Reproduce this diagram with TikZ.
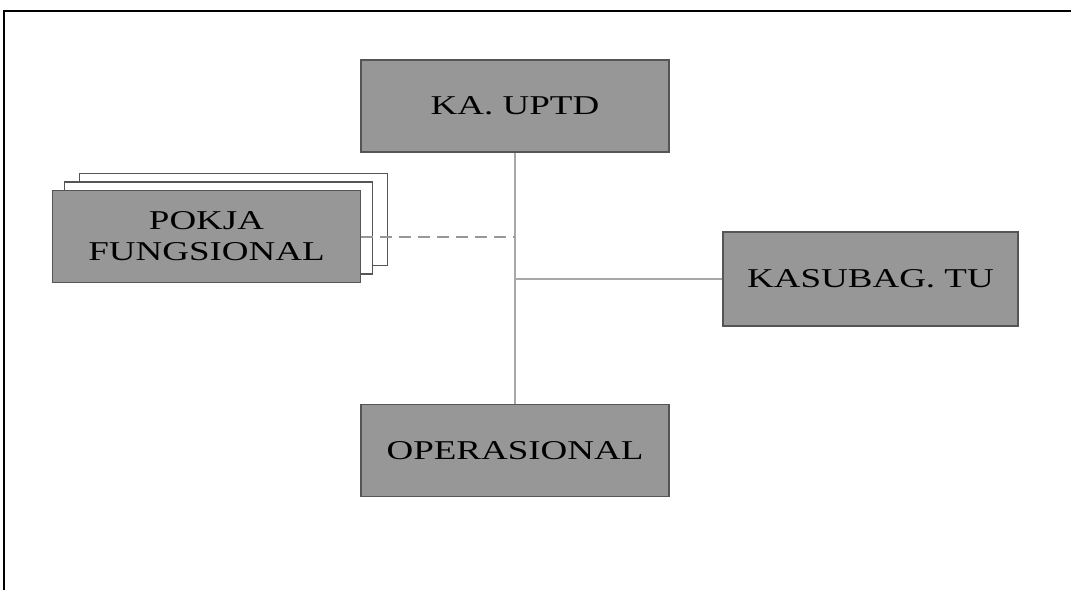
\documentclass[tikz,border=0pt]{standalone}
\usepackage{fontspec}
\setmainfont[FakeStretch=1.36]{Liberation Serif}
\definecolor{boxgray}{HTML}{979797}
\definecolor{edgegray}{HTML}{555555}
\definecolor{linegray}{HTML}{A8A8A8}
\tikzset{
  unit/.style={draw=edgegray, fill=boxgray, line width=0.75pt, inner sep=0pt,
    minimum width=154pt, minimum height=46pt, align=center,
    font=\fontsize{13.6}{15.5}\selectfont},
  sheet/.style={draw=edgegray, fill=white, line width=0.75pt, inner sep=0pt,
    minimum width=154pt, minimum height=46pt},
  link/.style={draw=linegray, line width=0.65pt}
}
\begin{document}
\begin{tikzpicture}[x=0.5pt, y=-0.5pt]
  \useasboundingbox (0,0) rectangle (1071,590);
  % 1. bingkai
  \draw[line width=1.1pt] (4,590) -- (4,11) -- (1071,11);

  % 2. kotak
  \node[unit] (uptd) at (515,106) {KA. UPTD};
  \node[sheet] (pokja3) at (233.5,219.5) {};
  \node[sheet] (pokja2) at (218.5,228) {};
  \node[unit] (pokja) at (206.5,236.5) {POKJA\\FUNGSIONAL};
  \node[unit, minimum width=147.5pt, minimum height=47pt] (tu) at (870.5,279) {KASUBAG. TU};
  \node[unit] (ops) at (515,450.5) {OPERASIONAL};

  % 3. garis penghubung
  \draw[link] (uptd.south) -- (ops.north);
  \coordinate (cabang) at (uptd.south |- tu.west);
  \draw[link] (cabang) -- (tu.west);
  \draw[draw=boxgray, line width=1pt, dash pattern=on 6pt off 3.5pt] (pokja.east) -- (uptd.south |- pokja.east);
\end{tikzpicture}
\end{document}
